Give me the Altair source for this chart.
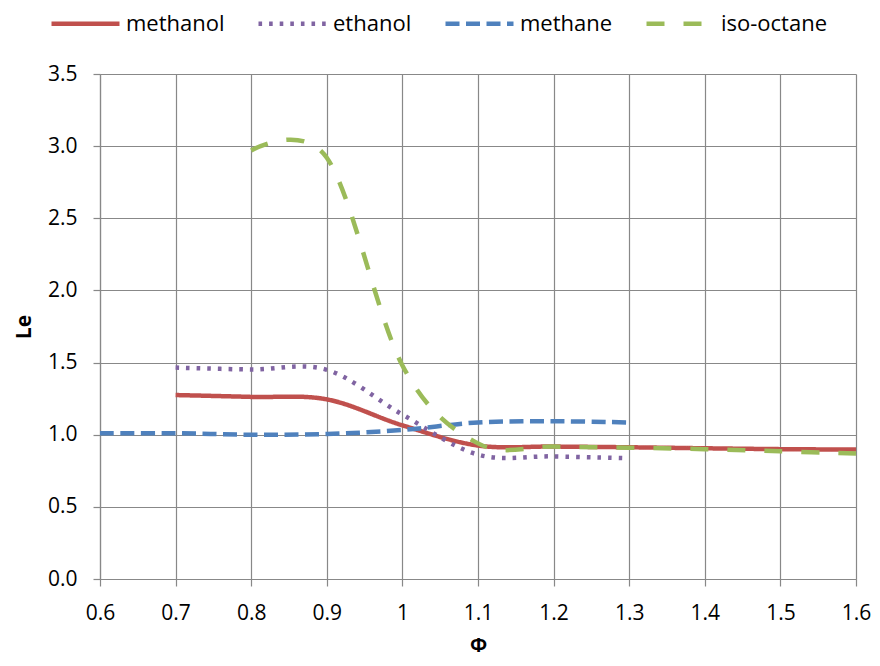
import altair as alt
import pandas as pd

# ---- data ----
fuels = ["methanol", "ethanol", "methane", "iso-octane"]

phi_methanol = [0.7, 0.8, 0.9, 1.0, 1.1, 1.2, 1.3, 1.4, 1.5, 1.6]
le_methanol = [1.275, 1.262, 1.245, 1.065, 0.925, 0.918, 0.913, 0.906, 0.900, 0.897]

phi_ethanol = [0.7, 0.8, 0.9, 1.0, 1.1, 1.2, 1.3]
le_ethanol = [1.465, 1.452, 1.45, 1.14, 0.862, 0.850, 0.837]

phi_methane = [0.6, 0.7, 0.8, 0.9, 1.0, 1.1, 1.2, 1.3]
le_methane = [1.01, 1.01, 1.0, 1.005, 1.033, 1.085, 1.093, 1.085]

phi_isooctane = [0.8, 0.9, 1.0, 1.1, 1.2, 1.3, 1.4, 1.5, 1.6]
le_isooctane = [2.97, 2.92, 1.48, 0.94, 0.918, 0.91, 0.90, 0.885, 0.87]

x_ticks = [0.6, 0.7, 0.8, 0.9, 1.0, 1.1, 1.2, 1.3, 1.4, 1.5, 1.6]
y_ticks = [0.0, 0.5, 1.0, 1.5, 2.0, 2.5, 3.0, 3.5]

colors = ["#C0504D", "#8064A2", "#4F81BD", "#9BBB59"]
dashes = [[1, 0], [3.6, 7], [14, 6.5], [18, 19]]

rows = []
for name, xs, ys in [
    ("methanol", phi_methanol, le_methanol),
    ("ethanol", phi_ethanol, le_ethanol),
    ("methane", phi_methane, le_methane),
    ("iso-octane", phi_isooctane, le_isooctane),
]:
    for i, (x, y) in enumerate(zip(xs, ys)):
        rows.append({"fuel": name, "phi": x, "Le": y, "order": i})
df = pd.DataFrame(rows)

FONT = "Open Sans"

legend = alt.Legend(
    title=None,
    orient="none",
    direction="horizontal",
    legendX=-51,
    legendY=-87,
    symbolType="stroke",
    symbolSize=4624,
    symbolStrokeWidth=4.5,
    labelFont=FONT,
    labelFontSize=22,
    labelColor="#000000",
    labelOffset=4,
    columnPadding=24,
    columns=4,
)

chart = (
    alt.Chart(df)
    .mark_line(interpolate="cardinal", strokeWidth=4.5)
    .encode(
        x=alt.X(
            "phi:Q",
            scale=alt.Scale(domain=[0.6, 1.6], nice=False, zero=False),
            axis=alt.Axis(values=x_ticks, format="~g", title="Φ", titlePadding=12,
                          titleFontSize=20, labelFlush=False, labelOverlap=False),
        ),
        y=alt.Y(
            "Le:Q",
            scale=alt.Scale(domain=[0, 3.5], nice=False),
            axis=alt.Axis(values=y_ticks, format=".1f", title="Le", titlePadding=13,
                          labelFlush=False, labelOverlap=False),
        ),
        color=alt.Color("fuel:N", scale=alt.Scale(domain=fuels, range=colors), legend=legend),
        strokeDash=alt.StrokeDash("fuel:N", scale=alt.Scale(domain=fuels, range=dashes), legend=legend),
        detail="fuel:N",
        order="order:O",
    )
    .properties(
        width=756,
        height=505,
        autosize=alt.AutoSizeParams(type="none"),
        padding={"left": 92, "top": 66, "right": 16, "bottom": 79},
        background="white",
    )
    .configure_view(strokeWidth=0)
    .configure_axis(
        grid=True,
        gridColor="#888888",
        gridWidth=1.2,
        domainColor="#888888",
        domainWidth=1.2,
        tickColor="#888888",
        tickWidth=1.2,
        tickSize=7,
        labelFont=FONT,
        labelFontSize=21,
        labelColor="#000000",
        labelPadding=16,
        titleFont=FONT,
        titleFontSize=21,
        titleFontWeight="bold",
        titleColor="#000000",
    )
)

chart.save("out.html", embed_options={"renderer": "svg", "actions": False})
